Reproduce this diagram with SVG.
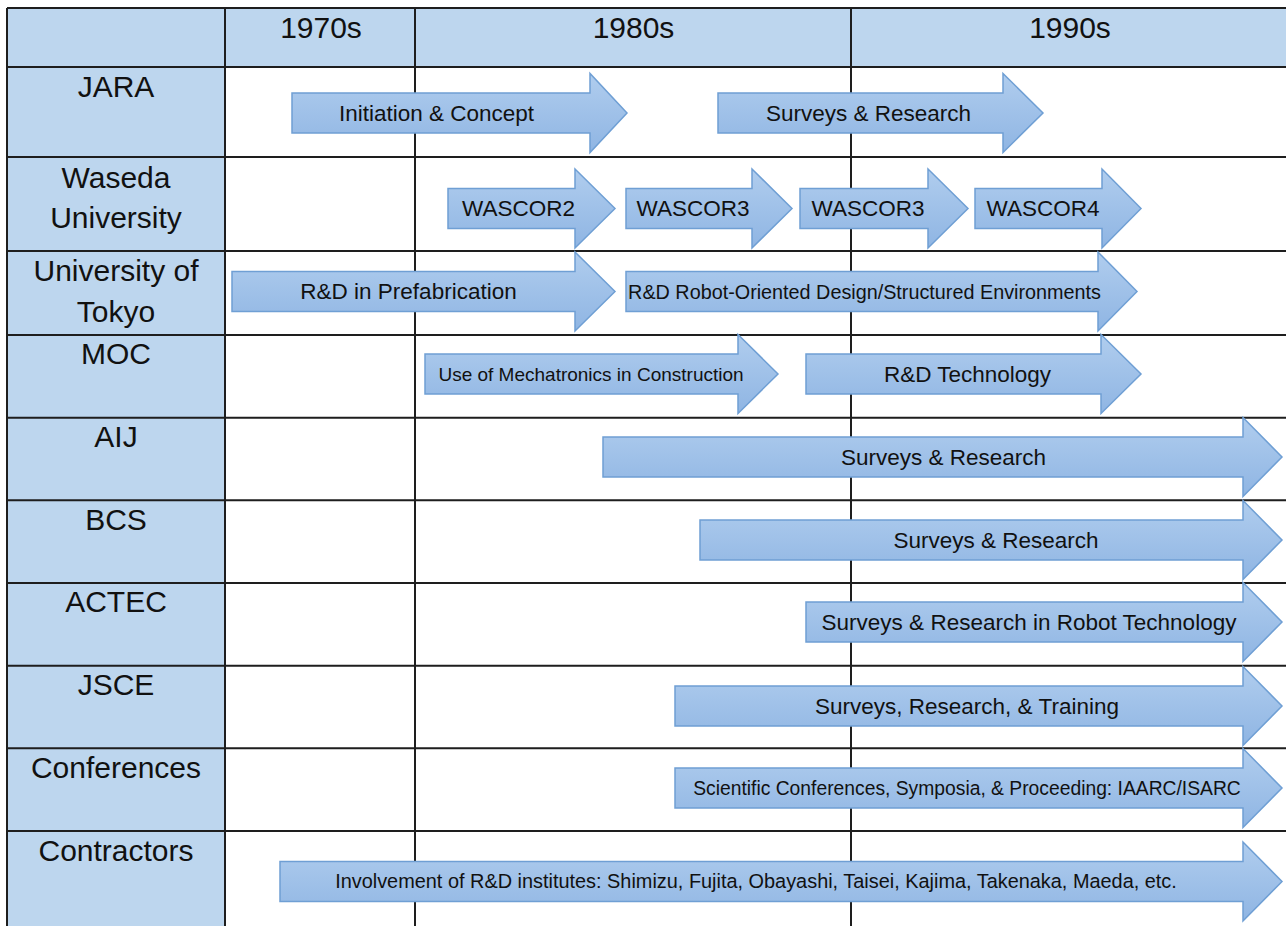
<svg xmlns="http://www.w3.org/2000/svg" width="1286" height="926" viewBox="0 0 1286 926">
<defs>
<linearGradient id="ag" x1="0" y1="0" x2="0" y2="1">
<stop offset="0" stop-color="#b0cdee"/>
<stop offset="1" stop-color="#8fb5e3"/>
</linearGradient>
<style>
.hd{fill:#bdd6ee}
.ln{stroke:#1e1e1e;stroke-width:2;fill:none}
.ar{fill:url(#ag);stroke:#6f9fd4;stroke-width:1.5}
text{font-family:"Liberation Sans",Arial,sans-serif;fill:#111;text-anchor:middle}
.lb{font-size:30px}
.t1{font-size:22.5px}
.t2{font-size:19px}
</style>
</defs>
<rect x="0" y="0" width="1286" height="926" fill="#ffffff"/>
<g id="grid">
<rect class="hd" x="7" y="8" width="1290" height="59"/>
<rect class="hd" x="7" y="67" width="218" height="870"/>
<path class="ln" d="M7,8 H1296 M7,67 H1296 M7,157 H1296 M7,251 H1296 M7,335 H1296 M7,417.7 H1296 M7,500.3 H1296 M7,583 H1296 M7,665.7 H1296 M7,748.3 H1296 M7,831 H1296"/>
<path class="ln" d="M7,8 V940 M225,8 V940 M415,8 V940 M851,8 V940"/>
</g>
<g id="header">
<text class="lb" x="321" y="38">1970s</text>
<text class="lb" x="633.5" y="38">1980s</text>
<text class="lb" x="1070" y="38">1990s</text>
</g>
<g id="row-labels">
<g id="lbl-jara"><text class="lb" x="116" y="97">JARA</text></g>
<g id="lbl-waseda"><text class="lb" x="116" y="188">Waseda</text><text class="lb" x="116" y="228">University</text></g>
<g id="lbl-tokyo"><text class="lb" x="116" y="281">University of</text><text class="lb" x="116" y="322">Tokyo</text></g>
<g id="lbl-moc"><text class="lb" x="116" y="364">MOC</text></g>
<g id="lbl-aij"><text class="lb" x="116" y="447">AIJ</text></g>
<g id="lbl-bcs"><text class="lb" x="116" y="530">BCS</text></g>
<g id="lbl-actec"><text class="lb" x="116" y="612">ACTEC</text></g>
<g id="lbl-jsce"><text class="lb" x="116" y="695">JSCE</text></g>
<g id="lbl-conf"><text class="lb" x="116" y="778">Conferences</text></g>
<g id="lbl-contr"><text class="lb" x="116" y="861">Contractors</text></g>
</g>
<g id="connectors"></g>
<g id="a1"><path class="ar" d="M292,93 H590 V73.5 L627,113 L590,152.5 V133 H292 Z"/><text class="t1" x="436.5" y="121">Initiation &amp; Concept</text></g>
<g id="a2"><path class="ar" d="M718,93 H1003 V73.5 L1043,113 L1003,152.5 V133 H718 Z"/><text class="t1" x="868.5" y="121">Surveys &amp; Research</text></g>
<g id="a3"><path class="ar" d="M448,188.5 H575 V169 L615,208.5 L575,248 V228.5 H448 Z"/><text class="t1" x="518.5" y="216">WASCOR2</text></g>
<g id="a4"><path class="ar" d="M626,188.5 H752 V169 L792,208.5 L752,248 V228.5 H626 Z"/><text class="t1" x="693" y="216">WASCOR3</text></g>
<g id="a5"><path class="ar" d="M800,188.5 H928 V169 L968,208.5 L928,248 V228.5 H800 Z"/><text class="t1" x="868" y="216">WASCOR3</text></g>
<g id="a6"><path class="ar" d="M975,188.5 H1102 V169 L1141,208.5 L1102,248 V228.5 H975 Z"/><text class="t1" x="1043" y="216">WASCOR4</text></g>
<g id="a7"><path class="ar" d="M232,271.5 H575 V252 L615,291.5 L575,331 V311.5 H232 Z"/><text class="t1" x="408.5" y="299">R&amp;D in Prefabrication</text></g>
<g id="a8"><path class="ar" d="M626,271.5 H1098 V252 L1137,291.5 L1098,331 V311.5 H626 Z"/><text class="t2" x="864.5" y="298.5" style="font-size:19.8px">R&amp;D Robot-Oriented Design/Structured Environments</text></g>
<g id="a9"><path class="ar" d="M425,354 H738 V334.5 L778,374 L738,413.5 V394 H425 Z"/><text class="t2" x="591" y="381">Use of Mechatronics in Construction</text></g>
<g id="a10"><path class="ar" d="M806,354 H1101 V334.5 L1141,374 L1101,413.5 V394 H806 Z"/><text class="t1" x="967.5" y="382">R&amp;D Technology</text></g>
<g id="a11"><path class="ar" d="M603,437 H1243 V417.5 L1282,457 L1243,496.5 V477 H603 Z"/><text class="t1" x="943.5" y="465">Surveys &amp; Research</text></g>
<g id="a12"><path class="ar" d="M700,520 H1243 V500.5 L1282,540 L1243,579.5 V560 H700 Z"/><text class="t1" x="996" y="548">Surveys &amp; Research</text></g>
<g id="a13"><path class="ar" d="M806,602 H1243 V582.5 L1282,622 L1243,661.5 V642 H806 Z"/><text class="t1" x="1029" y="630">Surveys &amp; Research in Robot Technology</text></g>
<g id="a14"><path class="ar" d="M675,686 H1243 V666.5 L1282,706 L1243,745.5 V726 H675 Z"/><text class="t1" x="967" y="714">Surveys, Research, &amp; Training</text></g>
<g id="a15"><path class="ar" d="M675,768 H1243 V748.5 L1282,788 L1243,827.5 V808 H675 Z"/><text class="t2" x="967" y="795" style="font-size:19.3px">Scientific Conferences, Symposia, &amp; Proceeding: IAARC/ISARC</text></g>
<g id="a16"><path class="ar" d="M280,861.5 H1243 V842 L1282,881.5 L1243,921 V901.5 H280 Z"/><text class="t2" x="756" y="888" style="font-size:19.9px">Involvement of R&amp;D institutes: Shimizu, Fujita, Obayashi, Taisei, Kajima, Takenaka, Maeda, etc.</text></g>
</svg>
